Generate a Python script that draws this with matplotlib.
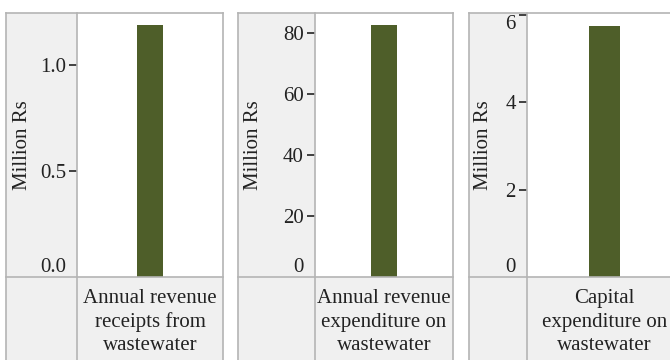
'''
Three single-bar panels of wastewater finances
'''
# Imports
import matplotlib
matplotlib.use('Agg')
import matplotlib.pyplot as plt
from matplotlib.patches import Rectangle
from matplotlib.lines import Line2D

# Data
categories = ['Annual revenue\nreceipts from\nwastewater',
              'Annual revenue\nexpenditure on\nwastewater',
              'Capital\nexpenditure on\nwastewater']
values = [1.19, 82.7, 5.76]
y_limits = [1.245, 86.7, 6.05]
y_ticks = [[0, 0.5, 1.0], [0, 20, 40, 60, 80], [0, 2, 4, 6]]
y_fmt = ['{:.1f}', '{:.0f}', '{:.0f}']
y_title = 'Million Rs'

# Style / layout (pixels, from top-left of a 670x360 canvas)
W, H = 670, 360
outer_left = [6, 238, 469]
plot_left = [77, 315, 527]
plot_right = [223, 453, 682]
ylabel_x = [23, 254, 484]
bar_width = [0.178, 0.188, 0.2]
top_px, bottom_px = 13, 277
bar_color = '#4e5e29'
panel_grey = '#f0f0f0'
edge_grey = '#b4b4b4'

plt.rcParams['font.family'] = ['Liberation Serif', 'DejaVu Serif']
plt.rcParams['font.size'] = 15

fig = plt.figure(figsize=(W / 100, H / 100), dpi=100)


def fx(px):
    return px / W


def fy(py):
    return 1 - py / H


for i in range(3):
    # grey strips
    fig.add_artist(Rectangle((fx(outer_left[i]), fy(H + 10)),
                             fx(plot_left[i] - outer_left[i]), fy(top_px) - fy(H + 10),
                             transform=fig.transFigure, facecolor=panel_grey,
                             edgecolor='none', zorder=0))
    fig.add_artist(Rectangle((fx(plot_left[i]), fy(H + 10)),
                             fx(plot_right[i] - plot_left[i]), fy(bottom_px) - fy(H + 10),
                             transform=fig.transFigure, facecolor=panel_grey,
                             edgecolor='none', zorder=0))
    # border lines
    for xs, ys in [((outer_left[i], plot_right[i]), (top_px, top_px)),
                   ((outer_left[i], outer_left[i]), (top_px, H + 10)),
                   ((plot_left[i], plot_left[i]), (top_px, H + 10)),
                   ((plot_right[i], plot_right[i]), (top_px, H + 10)),
                   ((outer_left[i], plot_right[i]), (bottom_px, bottom_px))]:
        fig.add_artist(Line2D([fx(xs[0]), fx(xs[1])], [fy(ys[0]), fy(ys[1])],
                              transform=fig.transFigure, color=edge_grey,
                              linewidth=1.2, zorder=1))

    ax = fig.add_axes([fx(plot_left[i]), fy(bottom_px),
                       fx(plot_right[i] - plot_left[i]), fy(top_px) - fy(bottom_px)])
    ax.set_facecolor('white')
    for s in ax.spines.values():
        s.set_visible(False)
    ax.bar([0], [values[i]], width=bar_width[i], color=bar_color)
    ax.set_xlim(-0.5, 0.5)
    ax.set_ylim(0, y_limits[i])
    ax.set_xticks([])
    ax.set_yticks(y_ticks[i])
    ax.set_yticklabels([y_fmt[i].format(t) for t in y_ticks[i]])
    ax.tick_params(axis='y', length=6, width=1.2, pad=2, colors='#222222',
                   labelcolor='#222222')
    labels = ax.get_yticklabels()
    labels[0].set_verticalalignment('bottom')
    ax.yaxis.get_major_ticks()[0].tick1line.set_visible(False)
    if y_ticks[i][-1] > y_limits[i] * 0.98:
        labels[-1].set_verticalalignment('top')

    fig.text(fx(ylabel_x[i]), fy((top_px + bottom_px) / 2), y_title,
             rotation=90, ha='center', va='center', color='#222222')
    fig.text(fx((plot_left[i] + min(plot_right[i], 682)) / 2), fy(322), categories[i],
             ha='center', va='center', color='#222222', linespacing=1.3)

fig.savefig('out.png', dpi=100)
